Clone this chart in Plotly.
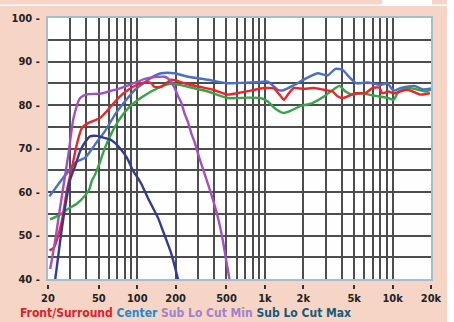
import numpy as np
import plotly.graph_objects as go

# ---- data (frequency Hz, level dB) ----
front_f = [20.5, 22.2, 25.7, 28.1, 30.8, 33.6, 36.8, 41.5, 51, 59, 71, 85, 99, 115, 129, 136, 155, 185,
           234, 306, 391, 512, 573, 778, 982, 1175, 1332, 1408, 1539, 1683, 2015, 2411, 2885, 3390, 3708,
           4055, 5120, 6125, 6940, 7870, 8300, 9250, 10300, 13000, 16400, 17000, 19600]
front_db = [46.6, 47.2, 53.4, 60.3, 65.6, 70.9, 74.7, 75.9, 77.0, 78.9, 81.6, 83.5, 84.6, 85.2, 85.0, 84.2, 84.2, 85.8,
            85.0, 84.2, 83.5, 82.4, 82.6, 83.3, 83.9, 83.8, 82.0, 81.2, 82.7, 83.9, 83.7, 83.9, 83.5, 83.1, 82.0,
            81.6, 82.7, 82.7, 83.9, 84.0, 82.7, 83.1, 82.7, 83.5, 82.4, 82.4, 82.7]

center_f = [20.5, 25.7, 29.8, 33.6, 39.1, 46.7, 55.9, 66.9, 80.0, 95.8, 114.6, 129, 155, 195, 250, 357, 515,
            778, 930, 1055, 1262, 1395, 1697, 2030, 2586, 3095, 3573, 4055, 4550, 5207, 6340, 8010, 9080,
            10210, 11470, 14750, 17330, 20000]
center_db = [59.0, 62.9, 65.2, 67.0, 67.9, 70.9, 74.0, 77.8, 80.8, 83.5, 85.2, 86.3, 87.3, 87.3, 86.5, 85.8, 85.0,
             85.2, 85.3, 85.4, 83.5, 83.4, 84.6, 85.9, 87.3, 86.8, 88.3, 88.1, 86.5, 85.0, 85.2, 84.6, 85.0,
             83.3, 83.9, 84.4, 83.6, 83.8]

green_f = [20.8, 24.9, 29.0, 33.6, 39.1, 42.0, 44.0, 46.7, 51.1, 55.9, 63.1, 71.1, 85.1, 101.8, 121.8, 145.8,
           164, 192, 250, 357, 515, 737, 930, 1055, 1189, 1381, 1593, 1917, 2336, 2918, 3491, 3838, 4276,
           4823, 5770, 6495, 7765, 9290, 10210, 11130, 13330, 15920, 17950, 20000]
green_db = [53.7, 54.8, 56.2, 57.3, 59.2, 60.5, 62.5, 64.0, 66.9, 70.2, 73.6, 76.3, 79.3, 81.2, 82.7, 83.9,
            84.6, 84.9, 84.2, 83.1, 81.6, 81.7, 81.6, 80.8, 79.3, 78.2, 78.7, 79.8, 80.4, 82.0, 83.7, 84.4, 83.1,
            82.4, 82.7, 82.4, 82.0, 81.6, 81.2, 83.1, 83.9, 83.5, 83.1, 83.5]

submin_f = [20.8, 22.8, 24.9, 27.3, 29.0, 31.7, 35.7, 41.5, 51.1, 59.4, 71.1, 85.1, 101.8, 114.6, 137.2, 164,
            179.6, 196.4, 208.7, 221.5, 235, 250, 265, 281, 298, 317, 336, 380, 428, 468, 497, 527, 550]
submin_db = [42.3, 49.0, 56.5, 64.0, 69.0, 77.0, 81.6, 82.5, 82.6, 83.1, 83.7, 84.5, 85.4, 86.0, 86.4, 86.5,
             85.8, 83.9, 82.0, 80.5, 78.0, 76.0, 73.5, 71.5, 69.0, 66.5, 64.3, 59.5, 54.2, 48.9, 44.3, 40.1, 37.0]

submax_f = [22.8, 24.9, 27.3, 29.8, 32.6, 35.7, 39.1, 42.7, 48.2, 54.3, 61.2, 66.9, 71.1, 83.3, 93.1, 101.8,
            108.1, 121.8, 129.3, 145.8, 154.7, 174.5, 185, 208.7, 220]
submax_db = [40.0, 48.7, 56.7, 62.8, 65.9, 69.4, 71.5, 72.8, 72.9, 72.5, 72.1, 71.3, 70.5, 67.8, 64.8, 63.1,
             61.8, 58.5, 57.0, 54.0, 52.0, 47.9, 45.8, 40.0, 37.5]

x_grid = [20, 30, 40, 50, 60, 70, 80, 90, 100, 200, 300, 400, 500, 600, 700, 800, 900,
          1000, 2000, 3000, 4000, 5000, 6000, 7000, 8000, 9000, 10000, 20000]
x_tickvals = [20, 50, 100, 200, 500, 1000, 2000, 5000, 10000, 20000]
x_ticktext = ["20", "50", "100", "200", "500", "1k", "2k", "5k", "10k", "20k"]
y_grid = [40, 45, 50, 55, 60, 65, 70, 75, 80, 85, 90, 95, 100]
y_ticktext = ["40 -", "", "50 -", "", "60 -", "", "70 -", "", "80 -", "", "90 -", "", "100 -"]

legend_names = ["Front/Surround", "Center", "Sub Lo Cut Min", "Sub Lo Cut Max"]
legend_colors = ["#d8232c", "#1c8bd0", "#a27fcb", "#155a78"]

FONT = "Liberation Sans Narrow, DejaVu Sans Condensed, Roboto, sans-serif"
GRID = "#4d4d4d"
EDGE = "#a9bccb"

fig = go.Figure()
series = [
    (green_f, green_db, "#35a546", "Surround"),
    (center_f, center_db, "#4a6fc8", "Center"),
    (front_f, front_db, "#e8262b", "Front/Surround"),
    (submax_f, submax_db, "#323b93", "Sub Lo Cut Max"),
    (submin_f, submin_db, "#a24fc0", "Sub Lo Cut Min"),
]
for fx, fy, col, nm in series:
    fig.add_trace(go.Scatter(x=fx, y=fy, mode="lines", name=nm,
                             line=dict(color=col, width=2.4, shape="spline", smoothing=0.6),
                             showlegend=False, cliponaxis=True))

# helper invisible trace for the labelled axis
fig.add_trace(go.Scatter(x=[20, 20000], y=[None, None], xaxis="x2", mode="lines",
                         showlegend=False, hoverinfo="skip"))

fig.update_layout(
    width=454, height=322,
    margin=dict(l=46, r=23, t=16, b=38),
    paper_bgcolor="#f6d5c7",
    plot_bgcolor="#fefefe",
    font=dict(family=FONT, size=11, color="#222222"),
    xaxis=dict(type="log", range=[np.log10(20), np.log10(20000)],
               tickvals=x_grid, showticklabels=False, ticks="",
               showgrid=True, gridcolor=GRID, gridwidth=2,
               showline=True, mirror=True, linecolor=EDGE, linewidth=2,
               zeroline=False, anchor="y"),
    xaxis2=dict(type="log", range=[np.log10(20), np.log10(20000)], overlaying="x",
                anchor="free", position=0, side="bottom",
                tickvals=x_tickvals, ticktext=x_ticktext,
                ticks="outside", ticklen=4, tickwidth=2, tickcolor="#333333",
                showgrid=False, showline=False, zeroline=False,
                tickfont=dict(family=FONT, size=11, color="#222222", weight="bold")),
    yaxis=dict(range=[40, 100], domain=[0.0187, 1],
               tickvals=y_grid, ticktext=y_ticktext, ticks="",
               showgrid=True, gridcolor=GRID, gridwidth=2,
               showline=True, mirror=True, linecolor=EDGE, linewidth=2,
               zeroline=False, ticklabelstandoff=4,
               tickfont=dict(family=FONT, size=11, color="#222222", weight="bold")),
)

legend_html = " ".join(f"<span style='color:{c}'>{n}</span>" for n, c in zip(legend_names, legend_colors))
fig.add_annotation(text=legend_html, xref="paper", yref="paper",
                   x=-0.078, y=-0.108, xanchor="left", yanchor="middle", showarrow=False,
                   font=dict(family=FONT, size=12, weight="bold"))

# white frame details of the page
fig.add_shape(type="rect", xref="paper", yref="paper", x0=(447 - 46) / 385, x1=1.2, y0=-0.3, y1=1.2,
              fillcolor="white", line_width=0, layer="above")
fig.add_shape(type="rect", xref="paper", yref="paper", x0=-0.2, x1=(447 - 46) / 385,
              y0=(284 - 4) / 268, y1=(284 - 2.5) / 268, fillcolor="white", line_width=0, layer="above")
fig.add_shape(type="rect", xref="paper", yref="paper", x0=(382 - 46) / 385, x1=(432 - 46) / 385,
              y0=(284 - 3) / 268, y1=1.2, fillcolor="white", line_width=0, layer="above")

fig.write_html("out.html", config={"displayModeBar": False},
               post_script="document.body.style.margin='0px';")
